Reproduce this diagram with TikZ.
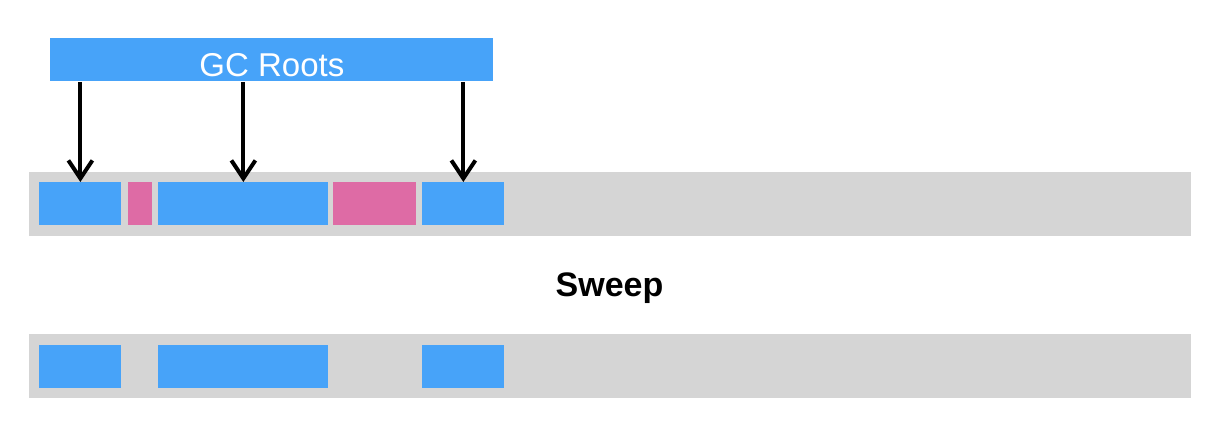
\documentclass[tikz,border=0pt]{standalone}
\usepackage{fontspec}
\usepackage{tikz}
\usetikzlibrary{arrows.meta,positioning,calc}
\newfontfamily\labfont{Liberation Sans}
\definecolor{liveblue}{RGB}{71,163,249}
\definecolor{deadpink}{RGB}{222,107,165}
\definecolor{heapgray}{RGB}{213,213,213}
\tikzset{
  heap/.style={fill=heapgray,draw=none,inner sep=0pt,anchor=north west,minimum height=32pt},
  live/.style={fill=liveblue,draw=none,inner sep=0pt,anchor=north west,minimum height=21.5pt},
  dead/.style={fill=deadpink,draw=none,inner sep=0pt,anchor=north west,minimum height=21.5pt},
  ref/.style={line width=2pt,-{Straight Barb[length=9pt,width=12pt,line width=2pt]}}
}
\begin{document}
\begin{tikzpicture}[x=0.5pt,y=-0.5pt]
  \useasboundingbox (0,0) rectangle (1229,426);
  % GC Roots
  \node[fill=liveblue,inner sep=0pt,anchor=north west,minimum width=221.5pt,minimum height=21.5pt,
        text height=16.5pt,text depth=0pt,text=white,font=\labfont\fontsize{16.5}{20}\selectfont]
        (roots) at (50,38) {GC Roots};
  % ヒープ(マーク後)
  \node[heap,minimum width=581pt] (heapA) at (29,171.5) {};
  \node[live,minimum width=41pt] (a1) at (39,182) {};
  \node[dead,minimum width=12pt] (a2) at (128,182) {};
  \node[live,minimum width=85pt] (a3) at (158,182) {};
  \node[dead,minimum width=41.5pt] (a4) at (333,182) {};
  \node[live,minimum width=41pt] (a5) at (422,182) {};
  % ルートからの参照
  \draw[ref] (roots.south -| a1.north) -- (a1.north);
  \draw[ref] (roots.south -| a3.north) -- (a3.north);
  \draw[ref] (roots.south -| a5.north) -- (a5.north);
  \node[anchor=base,font=\labfont\bfseries\fontsize{17}{20}\selectfont] (sweep) at (609.5,297) {Sweep};
  % ヒープ(スイープ後)
  \node[heap,minimum width=581pt] (heapB) at (29,334) {};
  \node[live,minimum width=41pt] (b1) at (39,345) {};
  \node[live,minimum width=85pt] (b3) at (158,345) {};
  \node[live,minimum width=41pt] (b5) at (422,345) {};
\end{tikzpicture}
\end{document}
